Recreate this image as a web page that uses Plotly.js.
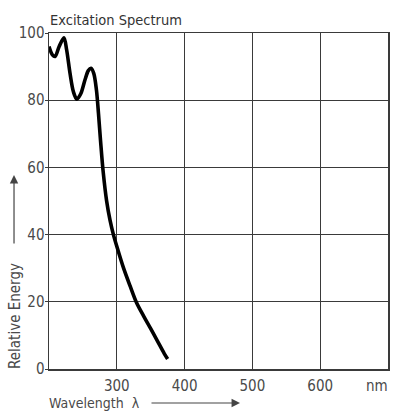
<!DOCTYPE html>
<html>
<head>
<meta charset="utf-8">
<script src="https://cdn.plot.ly/plotly-3.0.1.min.js"></script>
<style>
  html, body { margin: 0; padding: 0; background: #fff; }
  #chart { width: 395px; height: 413px; }
</style>
</head>
<body>
<div id="chart"></div>
<script>
// Excitation spectrum: relative energy against wavelength (nm)
const wavelength = [200, 205, 209, 215, 222, 226, 231, 236, 241, 247, 253, 258, 262, 266, 270, 273, 276, 280, 285, 290, 295, 300, 310, 320, 329, 340, 350, 360, 370, 375];
const relativeEnergy = [96, 93.5, 93, 96, 98.6, 95, 88, 82.5, 80.3, 82, 86, 88.8, 89.5, 88, 83, 76, 68, 58.5, 50, 44.3, 40, 36.5, 30, 24.5, 19.8, 15.6, 12, 8.3, 4.6, 3];

const xTicks = [300, 400, 500, 600];
const yTicks = [0, 20, 40, 60, 80, 100];

const FONT = '"Liberation Sans Narrow", "DejaVu Sans Condensed", "Liberation Sans", Arial, sans-serif';
const GRID = '#3a3a3a';
const TEXT = '#4a4a4a';

const trace = {
  x: wavelength,
  y: relativeEnergy,
  type: 'scatter',
  mode: 'lines',
  line: { color: '#000', width: 3.6, shape: 'spline', smoothing: 0.9 },
  hoverinfo: 'skip'
};

const layout = {
  width: 395,
  height: 413,
  margin: { l: 49, r: 7, t: 33, b: 44 },
  paper_bgcolor: '#fff',
  plot_bgcolor: '#fff',
  showlegend: false,
  font: { family: FONT, size: 15, color: TEXT },
  xaxis: {
    range: [200, 700],
    tickvals: xTicks,
    ticktext: xTicks.map(String),
    showgrid: true,
    gridcolor: GRID,
    gridwidth: 1.3,
    zeroline: false,
    showline: true,
    mirror: true,
    linecolor: GRID,
    linewidth: 1.5,
    ticks: '',
    ticklabelstandoff: 2,
    tickfont: { family: FONT, size: 15, color: TEXT },
    fixedrange: true
  },
  yaxis: {
    range: [0, 100],
    tickvals: yTicks,
    ticktext: yTicks.map(String),
    showgrid: true,
    gridcolor: GRID,
    gridwidth: 1.3,
    zeroline: false,
    showline: true,
    mirror: true,
    linecolor: GRID,
    linewidth: 1.5,
    ticks: 'outside',
    ticklen: 3,
    tickcolor: GRID,
    ticklabelstandoff: -3,
    tickfont: { family: FONT, size: 15, color: TEXT },
    fixedrange: true
  },
  annotations: [
    {
      text: 'Excitation Spectrum',
      xref: 'paper', yref: 'paper',
      x: -0.003, y: 1.0387,
      xanchor: 'left', yanchor: 'middle',
      showarrow: false,
      font: { family: FONT, size: 14.5, color: '#333' }
    },
    {
      text: 'nm',
      xref: 'x', yref: 'paper',
      x: 700, y: -0.05,
      xanchor: 'right', yanchor: 'middle',
      xshift: 2,
      showarrow: false,
      font: { family: FONT, size: 15, color: TEXT }
    },
    {
      text: 'Wavelength  λ',
      xref: 'paper', yref: 'paper',
      x: -0.006, y: -0.101,
      xanchor: 'left', yanchor: 'middle',
      showarrow: false,
      font: { family: FONT, size: 14, color: TEXT }
    },
    {
      // arrow pointing towards longer wavelengths
      text: '',
      xref: 'paper', yref: 'paper',
      x: 0.5634, y: -0.1012,
      ax: -90, ay: 0,
      showarrow: true,
      arrowhead: 2, arrowsize: 1.4, arrowwidth: 1.2,
      arrowcolor: '#444'
    },
    {
      text: 'Relative Energy',
      xref: 'paper', yref: 'paper',
      x: -0.1003, y: 0.158,
      xanchor: 'center', yanchor: 'middle',
      textangle: -90,
      showarrow: false,
      font: { family: FONT, size: 15, color: TEXT }
    },
    {
      // arrow pointing towards higher energy
      text: '',
      xref: 'paper', yref: 'paper',
      x: -0.1032, y: 0.5774,
      ax: 0, ay: 70,
      showarrow: true,
      arrowhead: 2, arrowsize: 1.4, arrowwidth: 1.2,
      arrowcolor: '#444'
    }
  ]
};

Plotly.newPlot('chart', [trace], layout, { displayModeBar: false, staticPlot: true });
</script>
</body>
</html>
